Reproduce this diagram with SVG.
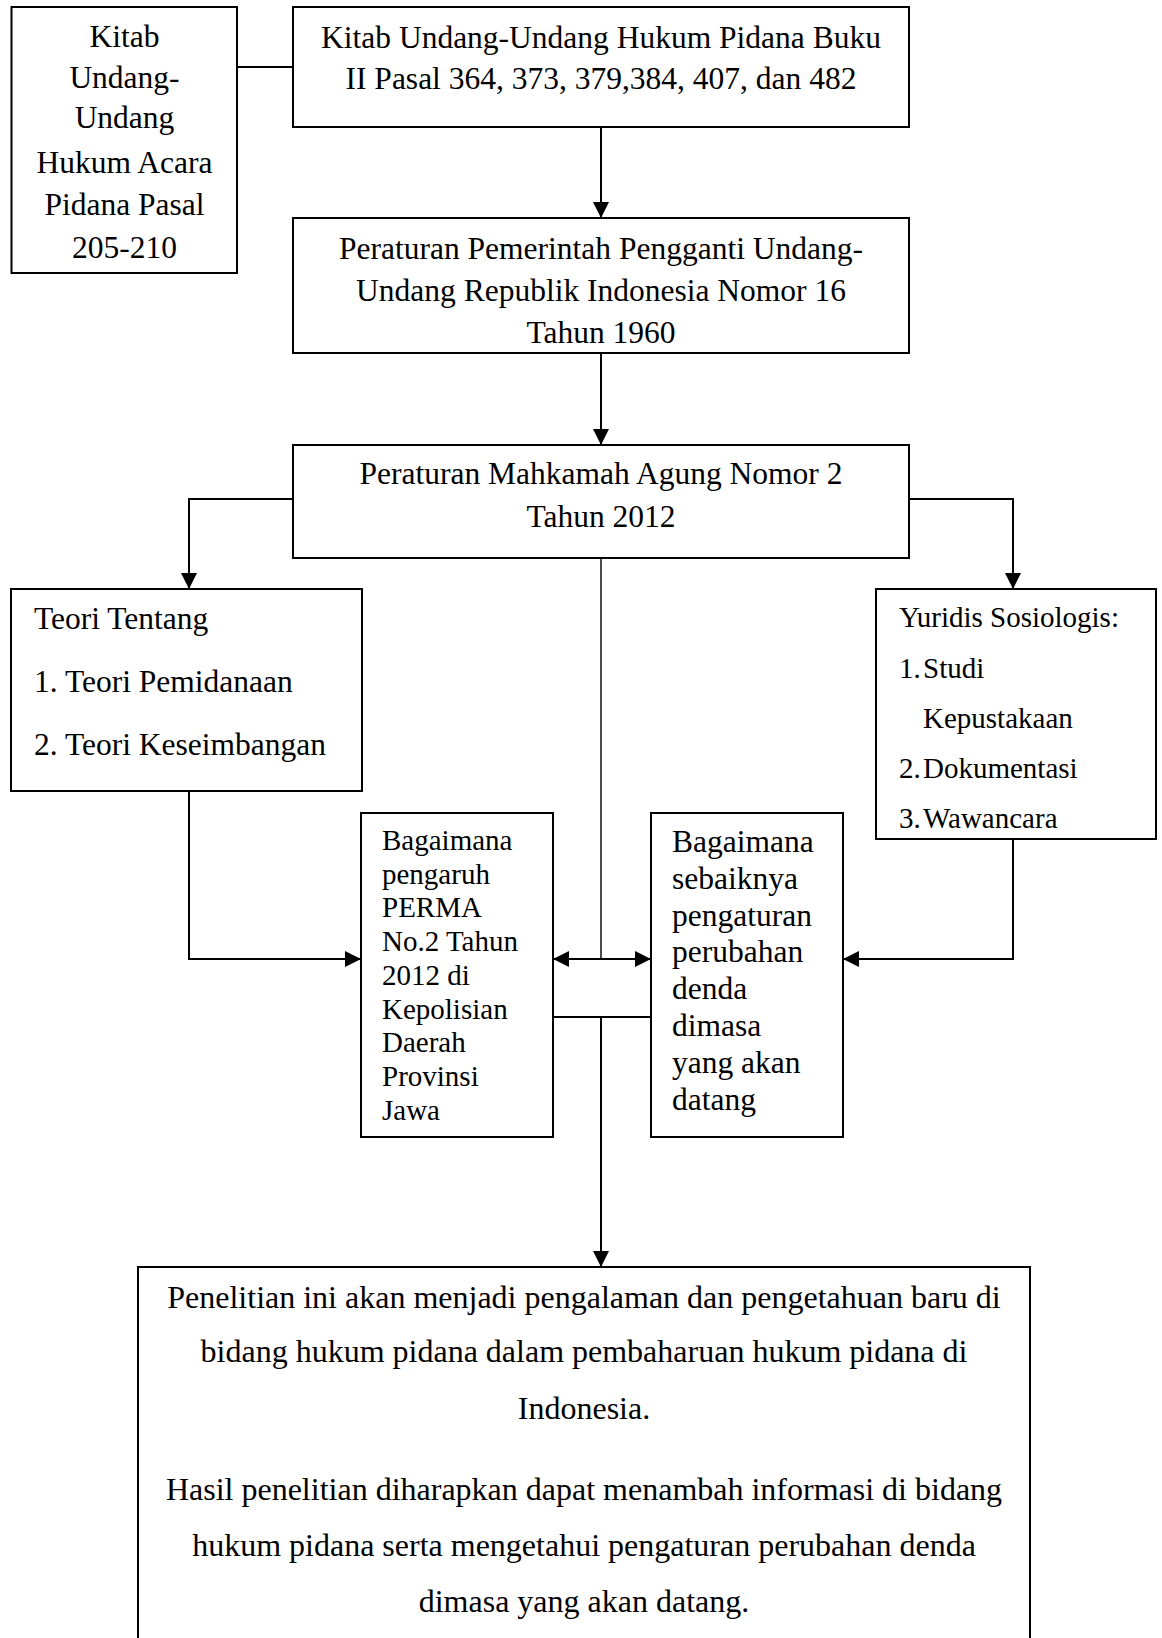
<svg xmlns="http://www.w3.org/2000/svg" width="1162" height="1638" viewBox="0 0 1162 1638">
<style>
  .box { fill: #fff; stroke: #000; stroke-width: 2; }
  .t { font-family: "Liberation Serif", "Times New Roman", serif; fill: #000; }
  .c { text-anchor: middle; }
  .f32 { font-size: 32px; }
  .f31 { font-size: 31.5px; }
  .f29 { font-size: 29px; }
  .ln { fill: none; stroke: #000; stroke-width: 2; }
  .thin { fill: none; stroke: #000; stroke-width: 1.4; }
</style>
<defs>
  <marker id="ah" viewBox="0 0 16 16" markerWidth="16" markerHeight="16" markerUnits="userSpaceOnUse" refX="16" refY="8" orient="auto-start-reverse">
    <path d="M0,0 L16,8 L0,16 Z" fill="#000"/>
  </marker>
</defs>
<rect width="1162" height="1638" fill="#fff"/>

<g id="connectors">
  <line class="ln" x1="237" y1="67" x2="293" y2="67"/>
  <line class="ln" x1="601" y1="127" x2="601" y2="218" marker-end="url(#ah)"/>
  <line class="ln" x1="601" y1="353" x2="601" y2="445" marker-end="url(#ah)"/>
  <polyline class="ln" points="293,499 189,499 189,589" marker-end="url(#ah)"/>
  <polyline class="ln" points="909,499 1013,499 1013,589" marker-end="url(#ah)"/>
  <polyline class="ln" points="189,791 189,959 361,959" marker-end="url(#ah)"/>
  <polyline class="ln" points="1013,839 1013,959 843,959" marker-end="url(#ah)"/>
  <line class="thin" x1="601" y1="558" x2="601" y2="959"/>
  <line class="ln" x1="553" y1="959" x2="651" y2="959" marker-start="url(#ah)" marker-end="url(#ah)"/>
  <line class="ln" x1="553" y1="1017" x2="651" y2="1017"/>
  <line class="ln" x1="601" y1="1017" x2="601" y2="1267" marker-end="url(#ah)"/>
</g>

<g id="kuhap">
  <rect class="box" x="11.5" y="7" width="225.5" height="266"/>
  <text class="t c f31" x="124.5" y="47">Kitab</text>
  <text class="t c f31" x="124.5" y="88">Undang-</text>
  <text class="t c f31" x="124.5" y="128">Undang</text>
  <text class="t c f31" x="124.5" y="173">Hukum Acara</text>
  <text class="t c f31" x="124.5" y="215">Pidana Pasal</text>
  <text class="t c f31" x="124.5" y="258">205-210</text>
</g>

<g id="kuhp">
  <rect class="box" x="293" y="7" width="616" height="120"/>
  <text class="t c f31" x="601" y="48">Kitab Undang-Undang Hukum Pidana Buku</text>
  <text class="t c f31" x="601" y="89">II Pasal 364, 373, 379,384, 407, dan 482</text>
</g>

<g id="perpu">
  <rect class="box" x="293" y="218" width="616" height="135"/>
  <text class="t c f31" x="601" y="259">Peraturan Pemerintah Pengganti Undang-</text>
  <text class="t c f31" x="601" y="301">Undang Republik Indonesia Nomor 16</text>
  <text class="t c f31" x="601" y="343">Tahun 1960</text>
</g>

<g id="perma">
  <rect class="box" x="293" y="445" width="616" height="113"/>
  <text class="t c f31" x="601" y="484">Peraturan Mahkamah Agung Nomor 2</text>
  <text class="t c f31" x="601" y="527">Tahun 2012</text>
</g>

<g id="teori">
  <rect class="box" x="11" y="589" width="351" height="202"/>
  <text class="t f31" x="34" y="629">Teori Tentang</text>
  <text class="t f31" x="34" y="692">1. Teori Pemidanaan</text>
  <text class="t f31" x="34" y="755">2. Teori Keseimbangan</text>
</g>

<g id="yuridis">
  <rect class="box" x="876" y="589" width="280" height="250"/>
  <text class="t f29" x="899" y="627">Yuridis Sosiologis:</text>
  <text class="t f29" x="899" y="678">1.</text><text class="t f29" x="923" y="678">Studi</text>
  <text class="t f29" x="923" y="728">Kepustakaan</text>
  <text class="t f29" x="899" y="778">2.</text><text class="t f29" x="923" y="778">Dokumentasi</text>
  <text class="t f29" x="899" y="828">3.</text><text class="t f29" x="923" y="828">Wawancara</text>
</g>

<g id="rumusan1">
  <rect class="box" x="361" y="813" width="192" height="324"/>
  <text class="t f29" x="382" y="850">Bagaimana</text>
  <text class="t f29" x="382" y="884">pengaruh</text>
  <text class="t f29" x="382" y="917">PERMA</text>
  <text class="t f29" x="382" y="951">No.2 Tahun</text>
  <text class="t f29" x="382" y="985">2012 di</text>
  <text class="t f29" x="382" y="1019">Kepolisian</text>
  <text class="t f29" x="382" y="1052">Daerah</text>
  <text class="t f29" x="382" y="1086">Provinsi</text>
  <text class="t f29" x="382" y="1120">Jawa</text>
</g>

<g id="rumusan2">
  <rect class="box" x="651" y="813" width="192" height="324"/>
  <text class="t f31" x="672" y="852">Bagaimana</text>
  <text class="t f31" x="672" y="889">sebaiknya</text>
  <text class="t f31" x="672" y="926">pengaturan</text>
  <text class="t f31" x="672" y="962">perubahan</text>
  <text class="t f31" x="672" y="999">denda</text>
  <text class="t f31" x="672" y="1036">dimasa</text>
  <text class="t f31" x="672" y="1073">yang akan</text>
  <text class="t f31" x="672" y="1110">datang</text>
</g>

<g id="hasil">
  <rect class="box" x="138" y="1267" width="892" height="420"/>
  <text class="t c f32" x="584" y="1308">Penelitian ini akan menjadi pengalaman dan pengetahuan baru di</text>
  <text class="t c f32" x="584" y="1362">bidang hukum pidana dalam pembaharuan hukum pidana di</text>
  <text class="t c f32" x="584" y="1419">Indonesia.</text>
  <text class="t c f32" x="584" y="1500">Hasil penelitian diharapkan dapat menambah informasi di bidang</text>
  <text class="t c f32" x="584" y="1556">hukum pidana serta mengetahui pengaturan perubahan denda</text>
  <text class="t c f32" x="584" y="1612">dimasa yang akan datang.</text>
</g>
</svg>
